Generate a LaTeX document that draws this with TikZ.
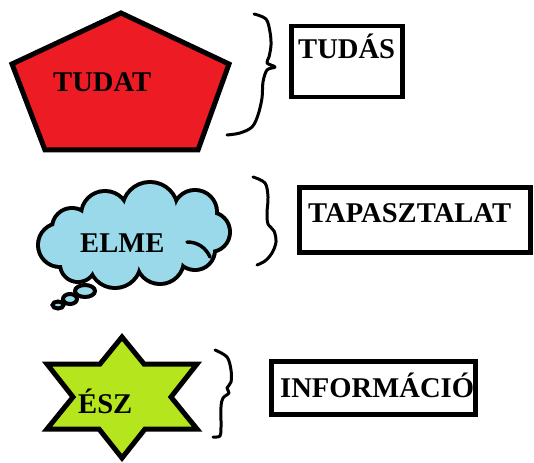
\documentclass[tikz,border=0pt]{standalone}
\usepackage{fontspec}
\setmainfont{Liberation Serif}
\definecolor{tred}{HTML}{ED1C24}
\definecolor{cblue}{HTML}{99D9EA}
\definecolor{sgreen}{HTML}{B5E61D}
\tikzset{
  lbl/.style={inner sep=0pt, anchor=base west, font=\fontsize{28.6}{30}\selectfont\bfseries},
  boxframe/.style={draw=black, line width=4.5pt},
  shapeline/.style={draw=black, line width=5pt, line join=miter},
  bracestroke/.style={draw=black, line width=3pt, line cap=round, line join=round},
  bubble/.style={draw=black, line width=4pt, fill=cblue},
}
\begin{document}
\begin{tikzpicture}[x=1pt,y=-1pt]
\useasboundingbox (0,0) rectangle (534,462);
% pentagon
\path[shapeline, fill=tred] (121,13) -- (229,64) -- (198,150) -- (45,150) -- (12,64) -- cycle;
\node[lbl] (tudat) at (53,92) {TUDAT};
% cloud
\path[draw=black, line width=8pt]
  (60,245) circle[radius=20] (78,264) circle[radius=16] (115,262) circle[radius=24]
  (160,260) circle[radius=22] (195,250) circle[radius=18] (210,232) circle[radius=18]
  (195,212) circle[radius=20] (150,210) circle[radius=26] (105,215) circle[radius=22]
  (72,228) circle[radius=18];
\path[fill=cblue]
  (60,245) circle[radius=20] (78,264) circle[radius=16] (115,262) circle[radius=24]
  (160,260) circle[radius=22] (195,250) circle[radius=18] (210,232) circle[radius=18]
  (195,212) circle[radius=20] (150,210) circle[radius=26] (105,215) circle[radius=22]
  (72,228) circle[radius=18];
\path[fill=cblue] (60,245) -- (78,264) -- (115,262) -- (160,260) -- (195,250) -- (210,232)
  -- (195,212) -- (150,210) -- (105,215) -- (72,228) -- cycle;
\draw[line width=3.5pt, line cap=round] (187,242) .. controls (198,242) and (206,248) .. (210,257);
\path[bubble] (85,291) ellipse[x radius=10, y radius=6];
\path[bubble] (70,299) ellipse[x radius=7, y radius=5];
\path[bubble] (58,305) ellipse[x radius=5.5, y radius=3.5];
\node[lbl] (elme) at (80,252) {ELME};
% star
\path[shapeline, fill=sgreen] (122,337) -- (144,364) -- (197,364) -- (171,397) -- (197,429)
  -- (145,429) -- (122,458) -- (99,429) -- (47,429) -- (73,397) -- (47,364) -- (100,364) -- cycle;
\node[lbl] (esz) at (78,413) {ÉSZ};
% braces
\draw[bracestroke] plot[smooth, tension=0.55] coordinates {(254,14) (266,19) (270,32) (271,45) (269,57) (267,63) (275,67) (267,70) (263,82) (262,98) (258,115) (252,127) (240,133) (227,135)};
\draw[bracestroke] plot[smooth, tension=0.55] coordinates {(253,177) (265,183) (268,197) (267,213) (268,224) (274,231) (276,242) (272,253) (265,261) (257,265)};
\draw[bracestroke] plot[smooth, tension=0.55] coordinates {(215,350) (227,357) (231,370) (231,382) (227,388) (229,393) (223,398) (221,407) (221,427) (220,436) (213,437)};
% boxes
\node[boxframe, anchor=north west, minimum width=111pt, minimum height=71pt, inner sep=0pt] (tudasbox) at (289,24) {};
\node[lbl] (tudas) at (298,59) {TUDÁS};
\node[boxframe, anchor=north west, minimum width=231pt, minimum height=65pt, inner sep=0pt] (tapbox) at (297,185) {};
\node[lbl] (tap) at (308,222) {TAPASZTALAT};
\node[boxframe, anchor=north west, minimum width=204pt, minimum height=53pt, inner sep=0pt] (infobox) at (269,359) {};
\node[lbl] (info) at (280,397) {INFORMÁCIÓ};
\end{tikzpicture}
\end{document}
